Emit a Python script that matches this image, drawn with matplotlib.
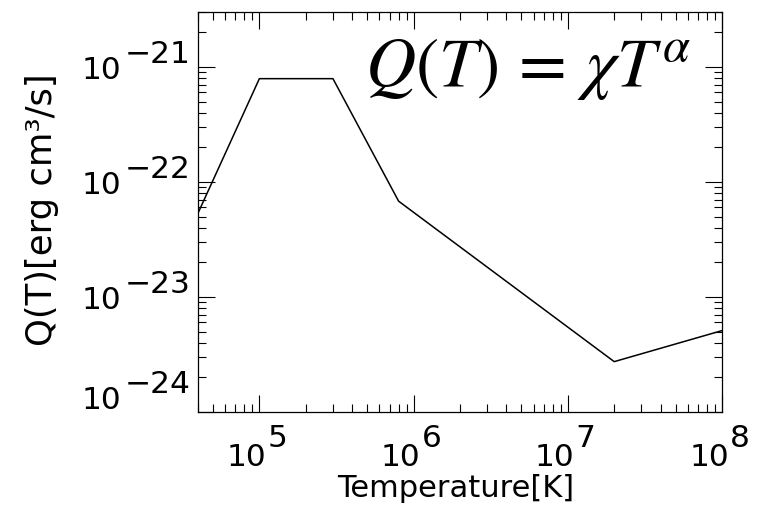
import matplotlib
matplotlib.use("Agg")
import matplotlib.pyplot as plt

# Data
temperature = [4.0e4, 1.0e5, 3.0e5, 8.0e5, 2.0e7, 1.0e8]
q_values = [5.35e-23, 7.9e-22, 7.9e-22, 6.8e-23, 2.74e-24, 5.1e-24]

x_exponents = [5, 6, 7, 8]
y_exponents = [-21, -22, -23, -24]
x_label = "Temperature[K]"
y_label = "Q(T)[erg cm³/s]"
formula = r"$Q(T)\,=\,\chi T^{\alpha}$"

plt.rcParams["font.family"] = ["DejaVu Sans"]
plt.rcParams["mathtext.fontset"] = "stix"

W, H, DPI = 765, 512, 100
fig = plt.figure(figsize=(W / DPI, H / DPI), dpi=DPI)
ax_left, ax_right, ax_top, ax_bottom = 198, 722, 12, 412
ax = fig.add_axes([ax_left / W, 1 - ax_bottom / H,
                   (ax_right - ax_left) / W, (ax_bottom - ax_top) / H])

ax.plot(temperature, q_values, color="black", lw=1.1)
ax.set_xscale("log")
ax.set_yscale("log")
ax.set_xlim(4.0e4, 1.0e8)
ax.set_ylim(1.0e-24, 3.0e-21)

for s in ax.spines.values():
    s.set_linewidth(0.9)
ax.tick_params(which="both", direction="in", top=True, right=True,
               labelbottom=False, labelleft=False, color="black")
ax.tick_params(which="major", length=12, width=0.8)
ax.tick_params(which="minor", length=5.8, width=0.8)

px = 72.0 / DPI  # points per pixel
fs = 22.5

# X tick labels: "10" plus same-size raised exponent
for e in x_exponents:
    xv = 10.0 ** e
    ax.annotate("10", xy=(xv, 0), xycoords=("data", "axes fraction"),
                xytext=(7 * px, -54 * px), textcoords="offset points",
                ha="right", va="baseline", fontsize=fs, annotation_clip=False)
    ax.annotate(str(e), xy=(xv, 0), xycoords=("data", "axes fraction"),
                xytext=(8 * px, -35 * px), textcoords="offset points",
                ha="left", va="baseline", fontsize=fs, annotation_clip=False)

# Y tick labels
for e in y_exponents:
    yv = 10.0 ** e
    shift = 15 if e == y_exponents[-1] else 0
    ax.annotate("10", xy=(0, yv), xycoords=("axes fraction", "data"),
                xytext=(-116 * px, (-12 + shift) * px), textcoords="offset points",
                ha="left", va="baseline", fontsize=fs, annotation_clip=False)
    ax.annotate("\u2212" + str(abs(e)), xy=(0, yv), xycoords=("axes fraction", "data"),
                xytext=(-73 * px, (4 + shift) * px), textcoords="offset points",
                ha="left", va="baseline", fontsize=fs, annotation_clip=False)

fig.text((ax_left + ax_right) / 2 / W - 0.005, 1 - 474 / H, x_label,
         ha="center", va="top", fontsize=22)
fig.text(42 / W, 1 - 210 / H, y_label, rotation=90,
         ha="center", va="center", fontsize=25.5)

ax.text((365 - ax_left) / (ax_right - ax_left), 1 - (86 - ax_top) / (ax_bottom - ax_top),
        formula, transform=ax.transAxes, ha="left", va="baseline", fontsize=50)

fig.savefig("out.png", dpi=DPI)
